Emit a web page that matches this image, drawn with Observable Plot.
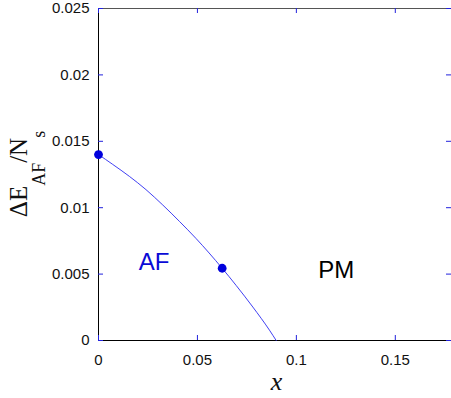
<!DOCTYPE html>
<html>
<head>
<meta charset="utf-8">
<script src="https://cdn.jsdelivr.net/npm/d3@7"></script>
<script src="https://cdn.jsdelivr.net/npm/@observablehq/plot@0.6"></script>
<style>
  html, body { margin: 0; padding: 0; background: #fff; }
  #chart svg { display: block; }
</style>
</head>
<body>
<div id="chart"></div>
<script>
// Phase boundary curve (x, ΔE_AF/N_s)
const curveX = [0, 0.0072, 0.0156, 0.0240, 0.0325, 0.0409, 0.0493, 0.0625, 0.0696, 0.0780, 0.0864, 0.0898];
const curveY = [0.0140, 0.01326, 0.01236, 0.01136, 0.01020, 0.00897, 0.00768, 0.00544, 0.00414, 0.00252, 0.00078, 0];
// Marked points
const dotX = [0, 0.0625];
const dotY = [0.0140, 0.00544];
// Region labels
const regionNames = ["AF", "PM"];
const regionX = [0.0281, 0.1202];
const regionY = [0.00591, 0.00527];
const regionColors = ["#0a0ad6", "#000000"];
// Axes
const xDomain = [0, 0.1784];
const yDomain = [0, 0.025];
const xTicks = [0, 0.05, 0.1, 0.15];
const yTicks = [0, 0.005, 0.01, 0.015, 0.02, 0.025];

const curve = curveX.map((x, i) => ({x, y: curveY[i]}));
const dots = dotX.map((x, i) => ({x, y: dotY[i]}));
const regions = regionNames.map((name, i) => ({name, x: regionX[i], y: regionY[i], color: regionColors[i]}));

const W = 451, H = 398, ML = 98, MR = 0, MT = 8, MB = 58;
const innerW = W - ML - MR, innerH = H - MT - MB;
const tickLen = 5;
const blue = "#2222dd";
const fmt = d => String(d);

const plot = Plot.plot({
  width: W, height: H,
  marginLeft: ML, marginRight: MR, marginTop: MT, marginBottom: MB,
  style: {fontFamily: "'Liberation Sans', Arial, sans-serif", fontSize: "15px", color: "#111", background: "#fff"},
  x: {domain: xDomain, label: null},
  y: {domain: yDomain, label: null},
  marks: [
    // frame lines
    Plot.ruleY([yDomain[1]], {stroke: "#555", strokeWidth: 1}),
    Plot.ruleX([xDomain[0]], {stroke: "#000", strokeWidth: 1}),
    Plot.ruleY([yDomain[0]], {stroke: "#000", strokeWidth: 1}),
    // inward ticks
    Plot.tickX(xTicks, {x: d => d, stroke: blue, insetTop: innerH - tickLen}),
    Plot.tickX(xTicks, {x: d => d, stroke: blue, insetBottom: innerH - tickLen}),
    Plot.tickY(yTicks, {y: d => d, stroke: blue, insetRight: innerW - tickLen}),
    Plot.tickY(yTicks, {y: d => d, stroke: blue, insetLeft: innerW - tickLen}),
    // tick labels
    Plot.axisX(xTicks, {tickSize: 0, tickPadding: 14, tickFormat: fmt, fontSize: 15, label: null, fill: "#111"}),
    Plot.axisY(yTicks, {tickSize: 0, tickPadding: 9, tickFormat: fmt, fontSize: 15, label: null, fill: "#111"}),
    // data
    Plot.line(curve, {x: "x", y: "y", stroke: "#2a2af0", strokeWidth: 0.9, curve: "monotone-x"}),
    Plot.dot(dots, {x: "x", y: "y", r: 4.4, fill: "#0000dd", stroke: "none"}),
    Plot.text(regions, {x: "x", y: "y", text: "name", fill: "color", fontSize: 24, fontFamily: "'Liberation Sans', Arial, sans-serif"})
  ]
});

document.getElementById("chart").appendChild(plot);

const svg = d3.select(plot);
const xs = plot.scale("x"), ys = plot.scale("y");
const cx = (xs.range[0] + xs.range[1]) / 2;
const cy = (ys.range[0] + ys.range[1]) / 2;

// x axis title
svg.append("text")
  .attr("x", cx + 2).attr("y", 390)
  .attr("text-anchor", "middle")
  .attr("font-family", "'Liberation Serif', 'Times New Roman', serif")
  .attr("font-style", "italic")
  .attr("font-size", 26)
  .attr("fill", "#111")
  .text("x");

// y axis title with subscripts
const yl = svg.append("text")
  .attr("transform", `translate(27, ${cy}) rotate(-90)`)
  .attr("text-anchor", "middle")
  .attr("font-family", "'Liberation Serif', 'Times New Roman', serif")
  .attr("font-size", 25)
  .attr("fill", "#111");
yl.append("tspan").text("ΔE");
yl.append("tspan").attr("dy", 18).attr("font-size", 18).text("AF");
yl.append("tspan").attr("dy", -18).text("/N");
yl.append("tspan").attr("dy", 18).attr("font-size", 18).text("s");
</script>
</body>
</html>
